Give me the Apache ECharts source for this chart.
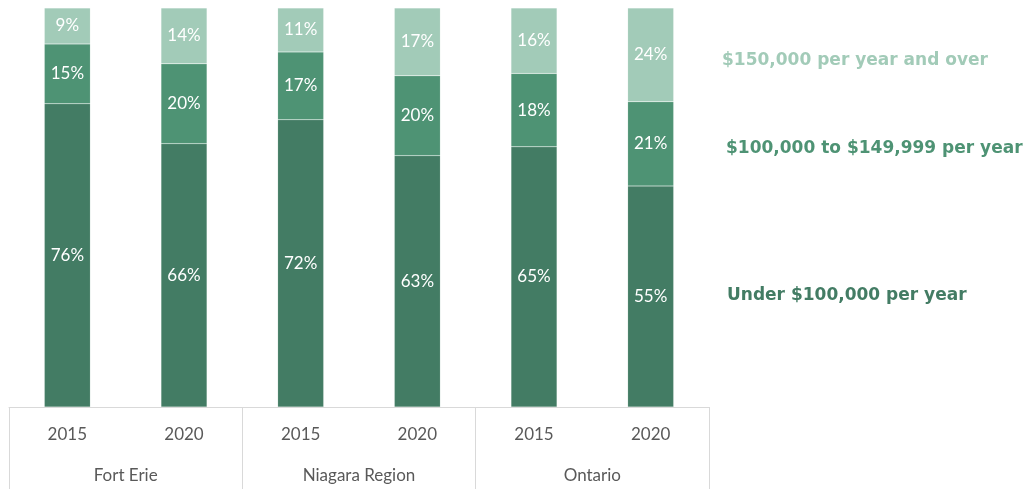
<!DOCTYPE html>
<html>
<head>
<meta charset="utf-8">
<script src="https://cdn.jsdelivr.net/npm/echarts@6/dist/echarts.min.js"></script>
<style>
  html, body { margin: 0; padding: 0; background: #fff; }
  #main { width: 1033px; height: 489px; }
</style>
</head>
<body>
<div id="main"></div>
<script>
// data
var years = ['2015', '2020', '2015', '2020', '2015', '2020'];
var regions = ['Fort Erie', 'Niagara Region', 'Ontario'];
var seriesNames = ['Under $100,000 per year', '$100,000 to $149,999 per year', '$150,000 per year and over'];
var under100k = [76, 66, 72, 63, 65.2, 55.4];
var from100to150k = [15, 20, 17, 20, 18.4, 21.1];
var over150k = [9, 14, 11, 17, 16.4, 23.5];

var colors = ['#437c64', '#4e9374', '#a2cbb8'];
var legendY = [294, 147, 59];
var legendX = [727, 726, 722];

function createChart() {
    var chartDom = document.getElementById('main');
    var myChart = echarts.init(chartDom);
    var font = 'Lato, "Open Sans", sans-serif';

    var values = [under100k, from100to150k, over150k];
    var series = values.map(function (arr, i) {
        return {
            name: seriesNames[i],
            type: 'bar',
            stack: 'total',
            barWidth: 46,
            data: arr,
            itemStyle: {
                color: colors[i],
                borderColor: 'rgba(255,255,255,0.25)',
                borderWidth: 0.5
            },
            label: {
                show: true,
                position: 'inside',
                color: '#ffffff',
                fontFamily: font,
                fontSize: 17,
                formatter: function (p) { return Math.round(p.value) + '%'; }
            }
        };
    });

    var option = {
        animation: false,
        grid: { left: 9, right: 324, top: 8, bottom: 82 },
        xAxis: [
            {
                type: 'category',
                data: years,
                axisLine: { lineStyle: { color: '#d9d9d9', width: 1 } },
                axisTick: { show: false },
                axisLabel: { color: '#595959', fontFamily: font, fontSize: 17, margin: 19 }
            },
            {
                type: 'category',
                data: regions,
                position: 'bottom',
                axisLine: { show: false },
                axisTick: { show: true, length: 90, lineStyle: { color: '#d9d9d9', width: 1 } },
                axisLabel: { color: '#595959', fontFamily: font, fontSize: 17, margin: 60 }
            }
        ],
        yAxis: {
            type: 'value',
            min: 0,
            max: 100,
            show: false,
            splitLine: { show: false }
        },
        series: series,
        graphic: seriesNames.map(function (name, i) {
            return {
                type: 'text',
                left: legendX[i],
                top: legendY[i] - 7,
                style: {
                    text: name,
                    fill: colors[i],
                    font: 'bold 17px "DejaVu Sans", sans-serif'
                }
            };
        })
    };

    option && myChart.setOption(option);
}

createChart();
</script>
</body>
</html>
